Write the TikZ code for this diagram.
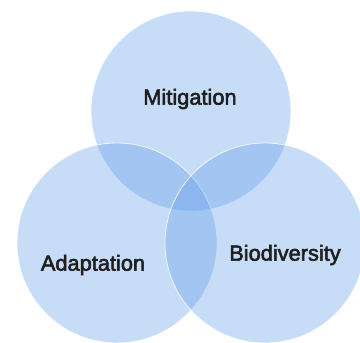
\documentclass[tikz,border=0pt]{standalone}
\usepackage{fontspec}
\setmainfont{Liberation Sans}
\newfontfamily\lblfont[FakeBold=2.5]{Liberation Sans}
\usepackage{tikz}
\definecolor{venn}{RGB}{95,155,232}
\tikzset{set/.style={circle, minimum size=200pt, inner sep=0pt, fill=venn, fill opacity=0.35, draw=white, draw opacity=0.8, line width=0.8pt}}
\tikzset{lbl/.style={text=black!88, font=\lblfont\fontsize{21.8}{25}\selectfont}}

\begin{document}
\begin{tikzpicture}[x=1pt, y=-1pt]
\useasboundingbox (0,0) rectangle (360,343);
\begin{scope}
\clip (0,0) rectangle (360,343);
\node[set] (mit) at (191,111) {};
\node[set] (ada) at (117,243) {};
\node[set] (bio) at (265,243) {};
\end{scope}

\node[lbl] (lmit) at (190,99) {Mitigation};
\node[lbl] (lada) at (93,265) {Adaptation};
\node[lbl] (lbio) at (285,255) {Biodiversity};

\end{tikzpicture}
\end{document}
